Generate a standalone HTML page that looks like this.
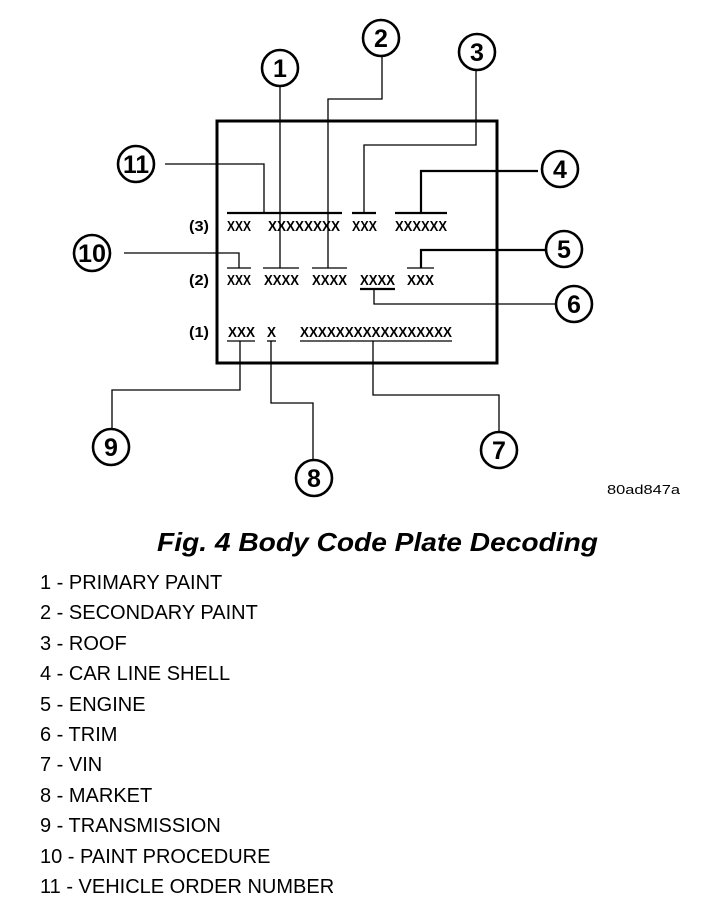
<!DOCTYPE html>
<html><head><meta charset="utf-8"><style>
html,body{margin:0;padding:0;background:#fff;}
svg{display:block;}
text{font-family:"Liberation Sans",Arial,sans-serif;fill:#000;}
</style></head><body>
<svg width="704" height="902" viewBox="0 0 704 902" xmlns="http://www.w3.org/2000/svg">
<rect x="217" y="121" width="280" height="242" fill="none" stroke="#000" stroke-width="3"/>
<g fill="none" stroke="#000" stroke-width="2.6">
<circle cx="280" cy="68" r="18"/>
<circle cx="381" cy="38" r="18"/>
<circle cx="477" cy="52" r="18"/>
<circle cx="136" cy="164" r="18"/>
<circle cx="560" cy="169" r="18"/>
<circle cx="92" cy="253" r="18"/>
<circle cx="564" cy="249" r="18"/>
<circle cx="574" cy="304" r="18"/>
<circle cx="111" cy="447" r="18"/>
<circle cx="314" cy="478" r="18"/>
<circle cx="499" cy="450" r="18"/>
</g>
<g font-weight="bold" font-size="25" text-anchor="middle">
<text x="280" y="77">1</text>
<text x="381" y="47">2</text>
<text x="477" y="61">3</text>
<text x="136" y="173" textLength="26" lengthAdjust="spacingAndGlyphs">11</text>
<text x="560" y="178">4</text>
<text x="92" y="262" textLength="28" lengthAdjust="spacingAndGlyphs">10</text>
<text x="564" y="258">5</text>
<text x="574" y="313">6</text>
<text x="111" y="456">9</text>
<text x="314" y="487">8</text>
<text x="499" y="459">7</text>
</g>
<g fill="none" stroke="#000" stroke-width="1.3">
<polyline points="165,164 264,164 264,213"/>
<polyline points="280,87 280,268"/>
<polyline points="382,57 382,99 328,99 328,268"/>
<polyline points="476,71 476,145 364,145 364,213"/>
<polyline points="124,253 239,253 239,268"/>
<polyline points="374,289 374,304 555,304"/>
<polyline points="240,341 240,390 112,390 112,428"/>
<polyline points="271,341 271,403 313,403 313,459"/>
<polyline points="373,341 373,395 499,395 499,431"/>
</g>
<g fill="none" stroke="#000" stroke-width="2.2">
<polyline points="538,171 421,171 421,213"/>
<polyline points="545,250 421,250 421,268"/>
<line x1="227" y1="213" x2="342" y2="213"/>
<line x1="352" y1="213" x2="376" y2="213"/>
<line x1="395" y1="213" x2="447" y2="213"/>
<line x1="360" y1="289" x2="395" y2="289"/>
</g>
<g fill="none" stroke="#000" stroke-width="1.3">
<line x1="227" y1="268" x2="251" y2="268"/>
<line x1="263" y1="268" x2="299" y2="268"/>
<line x1="312" y1="268" x2="347" y2="268"/>
<line x1="407" y1="268" x2="434" y2="268"/>
<line x1="227" y1="341" x2="255" y2="341"/>
<line x1="267" y1="341" x2="276" y2="341"/>
<line x1="300" y1="341" x2="452" y2="341"/>
</g>
<g font-weight="bold" font-size="15">
<text x="189" y="231" textLength="20" lengthAdjust="spacingAndGlyphs">(3)</text>
<text x="189" y="285" textLength="20" lengthAdjust="spacingAndGlyphs">(2)</text>
<text x="189" y="337" textLength="20" lengthAdjust="spacingAndGlyphs">(1)</text>
<text x="227" y="231" textLength="24" lengthAdjust="spacingAndGlyphs">XXX</text>
<text x="268" y="231" textLength="72" lengthAdjust="spacingAndGlyphs">XXXXXXXX</text>
<text x="352" y="231" textLength="25" lengthAdjust="spacingAndGlyphs">XXX</text>
<text x="395" y="231" textLength="52" lengthAdjust="spacingAndGlyphs">XXXXXX</text>
<text x="227" y="285" textLength="24" lengthAdjust="spacingAndGlyphs">XXX</text>
<text x="264" y="285" textLength="35" lengthAdjust="spacingAndGlyphs">XXXX</text>
<text x="312" y="285" textLength="35" lengthAdjust="spacingAndGlyphs">XXXX</text>
<text x="360" y="285" textLength="35" lengthAdjust="spacingAndGlyphs">XXXX</text>
<text x="407" y="285" textLength="27" lengthAdjust="spacingAndGlyphs">XXX</text>
<text x="228" y="337" textLength="27" lengthAdjust="spacingAndGlyphs">XXX</text>
<text x="267" y="337" textLength="9" lengthAdjust="spacingAndGlyphs">X</text>
<text x="300" y="337" textLength="152" lengthAdjust="spacingAndGlyphs">XXXXXXXXXXXXXXXXX</text>
</g>
<text x="607" y="494" font-size="13" textLength="73" lengthAdjust="spacingAndGlyphs">80ad847a</text>
<text x="157" y="551" font-size="26" font-weight="bold" font-style="italic" textLength="441" lengthAdjust="spacingAndGlyphs">Fig. 4 Body Code Plate Decoding</text>
<g font-size="20">
<text x="40" y="589">1 - PRIMARY PAINT</text>
<text x="40" y="619">2 - SECONDARY PAINT</text>
<text x="40" y="650">3 - ROOF</text>
<text x="40" y="680">4 - CAR LINE SHELL</text>
<text x="40" y="711">5 - ENGINE</text>
<text x="40" y="741">6 - TRIM</text>
<text x="40" y="771">7 - VIN</text>
<text x="40" y="802">8 - MARKET</text>
<text x="40" y="832">9 - TRANSMISSION</text>
<text x="40" y="863">10 - PAINT PROCEDURE</text>
<text x="40" y="893">11 - VEHICLE ORDER NUMBER</text>
</g>
</svg>
</body></html>
